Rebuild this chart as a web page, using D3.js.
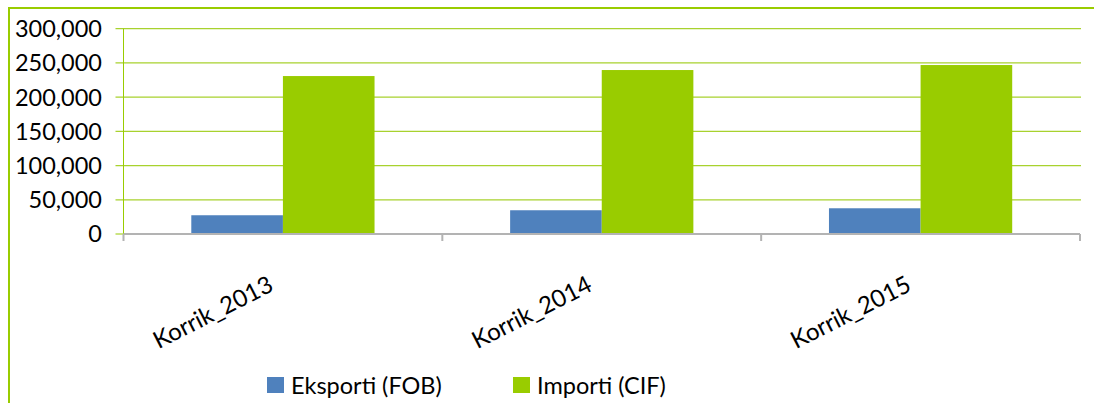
<!DOCTYPE html>
<html>
<head>
<meta charset="utf-8">
<script src="https://cdn.jsdelivr.net/npm/d3@7"></script>
<style>
  body { margin: 0; background: #fff; }
  text { font-family: Lato, "Open Sans", sans-serif; fill: #000; }
</style>
</head>
<body>
<div id="chart"></div>
<script>
var categories = ["Korrik_2013", "Korrik_2014", "Korrik_2015"];
var seriesNames = ["Eksporti (FOB)", "Importi (CIF)"];
var exportValues = [27400, 34700, 37600];
var importValues = [230800, 239600, 246900];
var yTicks = [0, 50000, 100000, 150000, 200000, 250000, 300000];
var colors = ["#4F81BD", "#99CC00"];

var width = 1094, height = 403;
var plot = {left: 123.5, right: 1080, top: 28.7, bottom: 234};

var svg = d3.select("#chart")
  .append("svg")
    .attr("width", width)
    .attr("height", height);

// outer chart frame (only top and left edges are visible)
svg.append("rect")
  .attr("x", 9).attr("y", 8)
  .attr("width", width + 20).attr("height", height + 20)
  .attr("fill", "none")
  .attr("stroke", "#99CC00")
  .attr("stroke-width", 2);

var rows = categories.map(function(c, i) {
  return {cat: c, values: [exportValues[i], importValues[i]]};
});

var x0 = d3.scaleBand()
    .domain(categories)
    .range([plot.left, plot.right])
    .padding(0);

var x1 = d3.scaleBand()
    .domain(seriesNames)
    .range([0, x0.bandwidth()])
    .paddingInner(0)
    .paddingOuter(0.74);

var y = d3.scaleLinear()
    .domain([0, 300000])
    .range([plot.bottom, plot.top]);

// gridlines + y tick marks
svg.append("g")
  .selectAll("line")
  .data(yTicks.filter(function(d) { return d > 0; }))
  .enter()
  .append("line")
    .attr("x1", plot.left - 8)
    .attr("x2", plot.right + 1)
    .attr("y1", function(d) { return y(d); })
    .attr("y2", function(d) { return y(d); })
    .attr("stroke", "#A8D22E")
    .attr("stroke-width", 1.2);

// zero tick on the left
svg.append("line")
  .attr("x1", plot.left - 8).attr("x2", plot.left)
  .attr("y1", y(0)).attr("y2", y(0))
  .attr("stroke", "#A8D22E").attr("stroke-width", 1.2);

// y axis line
svg.append("line")
  .attr("x1", plot.left).attr("x2", plot.left)
  .attr("y1", y(300000)).attr("y2", y(0))
  .attr("stroke", "#99CC00").attr("stroke-width", 1);

// y labels
svg.append("g")
  .selectAll("text")
  .data(yTicks)
  .enter()
  .append("text")
    .attr("x", 102)
    .attr("y", function(d) { return y(d); })
    .attr("dy", "0.36em")
    .attr("text-anchor", "end")
    .style("font-size", "23.5px")
    .text(function(d) { return d3.format(",")(d); });

// bars
svg.append("g")
  .selectAll("g")
  .data(rows)
  .enter()
  .append("g")
    .attr("transform", function(d) { return "translate(" + x0(d.cat) + ",0)"; })
  .selectAll("rect")
  .data(function(d) { return d.values.map(function(v, i) { return {key: seriesNames[i], value: v, i: i}; }); })
  .enter()
  .append("rect")
    .attr("x", function(d) { return x1(d.key); })
    .attr("width", x1.bandwidth())
    .attr("y", function(d) { return y(d.value); })
    .attr("height", function(d) { return y(0) - y(d.value); })
    .attr("fill", function(d) { return colors[d.i]; });

// x axis line and ticks
svg.append("line")
  .attr("x1", plot.left).attr("x2", plot.right)
  .attr("y1", plot.bottom).attr("y2", plot.bottom)
  .attr("stroke", "#B3B3B3").attr("stroke-width", 2);

var bounds = categories.map(function(c) { return x0(c); }).concat([plot.right]);
svg.append("g")
  .selectAll("line")
  .data(bounds)
  .enter()
  .append("line")
    .attr("x1", function(d) { return d; })
    .attr("x2", function(d) { return d; })
    .attr("y1", plot.bottom)
    .attr("y2", plot.bottom + 7)
    .attr("stroke", "#B3B3B3")
    .attr("stroke-width", 2);

// x labels, rotated
svg.append("g")
  .selectAll("text")
  .data(categories)
  .enter()
  .append("text")
    .attr("text-anchor", "end")
    .attr("transform", function(d) {
      return "translate(" + (x0(d) + x0.bandwidth() / 2 - 8) + "," + 290 + ") rotate(-27)";
    })
    .style("font-size", "24px")
    .text(function(d) { return d; });

// legend
var legendX = [267, 513];
var legend = svg.append("g")
  .selectAll("g")
  .data(seriesNames)
  .enter()
  .append("g")
    .attr("transform", function(d, i) { return "translate(" + legendX[i] + ",377)"; });

legend.append("rect")
  .attr("width", 17).attr("height", 16)
  .attr("fill", function(d, i) { return colors[i]; });

legend.append("text")
  .attr("x", 24)
  .attr("y", 16.5)
  .style("font-size", "23.5px")
  .text(function(d) { return d; });
</script>
</body>
</html>
